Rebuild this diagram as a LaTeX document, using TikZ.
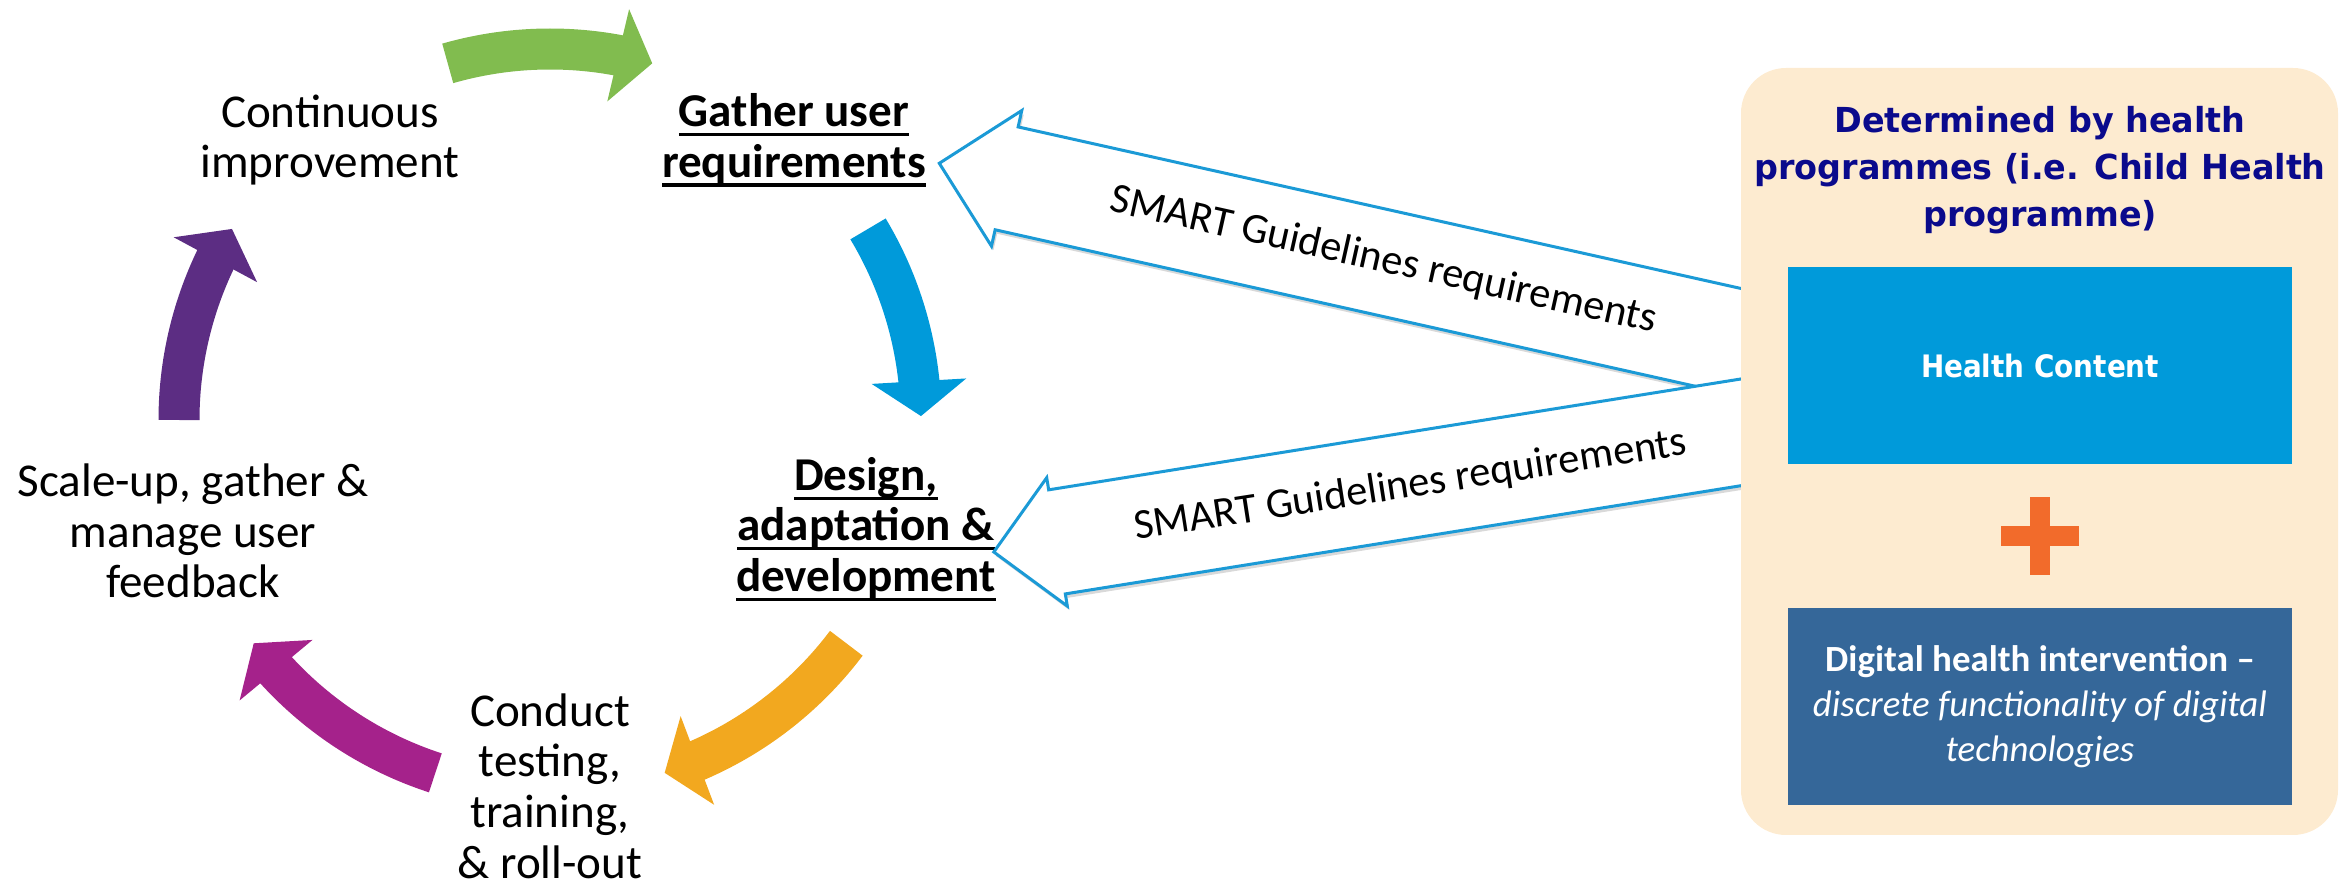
\documentclass[tikz,border=0pt]{standalone}
\usepackage{fontspec}
\setmainfont{Carlito}
\newfontfamily\panelFont[FakeStretch=0.97]{DejaVu Sans}
\newfontfamily\contentFont[FakeStretch=0.9]{DejaVu Sans}
\usepackage{xcolor}
\definecolor{arrowGreen}{HTML}{81BC4F}
\definecolor{arrowBlue}{HTML}{009ADA}
\definecolor{arrowOrange}{HTML}{F2A81F}
\definecolor{arrowMagenta}{HTML}{A5228B}
\definecolor{arrowPurple}{HTML}{5C2D83}
\definecolor{smartEdge}{HTML}{1B9AD6}
\definecolor{panelBg}{HTML}{FDEBD0}
\definecolor{titleNavy}{HTML}{0A0A8C}
\definecolor{contentBlue}{HTML}{009ADA}
\definecolor{dhiBlue}{HTML}{356799}
\definecolor{plusOrange}{HTML}{F26B2B}
\usepackage{tikz}
\usetikzlibrary{positioning,calc,arrows.meta,bending,shadows}
\newsavebox{\ulBox}
\newcommand{\stepUl}[1]{\sbox{\ulBox}{#1}\rlap{\rule[-0.2em]{\wd\ulBox}{0.065em}}\usebox{\ulBox}}
\tikzset{%
  stepText/.style={%
    align=center,
    inner sep=0pt,
    font=\fontsize{13.4}{14.4}\selectfont
  },
  keyStep/.style={%
    stepText,
    font=\fontsize{13.4}{14.4}\selectfont\bfseries
  },
  cycleArrow/.style={%
    line width=4.1mm,
    -{Triangle[length=3.5mm,width=9.3mm]},
    color=#1
  },
  smartArrow/.style={%
    draw=smartEdge,
    line width=0.3mm,
    fill=white,
    drop shadow={shadow xshift=0.2mm,shadow yshift=-0.4mm,opacity=0.3}
  },
  smartText/.style={%
    anchor=base,
    inner sep=0pt,
    font=\fontsize{12.1}{14}\selectfont
  },
  panelBox/.style={%
    rectangle,
    rounded corners=4.5mm,
    fill=panelBg,
    minimum width=59.7mm,
    minimum height=76.7mm
  },
  titleText/.style={%
    align=center,
    inner sep=0pt,
    text=titleNavy,
    font=\panelFont\bfseries\fontsize{9.8}{13.4}\selectfont
  },
  contentBox/.style={%
    rectangle,
    fill=contentBlue,
    text=white,
    minimum width=50.4mm,
    minimum height=19.7mm,
    font=\contentFont\bfseries\fontsize{8.8}{12}\selectfont
  },
  dhiBox/.style={%
    rectangle,
    fill=dhiBlue,
    text=white,
    align=center,
    minimum width=50.4mm,
    minimum height=19.7mm,
    font=\fontsize{10.5}{12.8}\selectfont
  }
}
\begin{document}
\begin{tikzpicture}[x=0.1mm,y=0.1mm]
  \useasboundingbox (0,0) rectangle (2341,885);
  \coordinate (cyc) at (550,465);

  % cycle of steps
  \node[stepText] (improve) at (330,745) {Continuous\\improvement};
  \node[keyStep] (gather) at (794,745) {\stepUl{Gather user}\\\stepUl{requirements}};
  \node[keyStep] (design) at (866,356) {\stepUl{Design,}\\\stepUl{adaptation \&}\\\stepUl{development}};
  \node[stepText] (conduct) at (550,99) {Conduct\\testing,\\training,\\\& roll-out};
  \node[stepText] (scale) at (193,354) {Scale-up, gather \&\\manage user\\feedback};

  \draw[cycleArrow=arrowGreen] ([shift={(106:371)}]cyc) arc[start angle=106,end angle=74,radius=371];
  \draw[cycleArrow=arrowBlue] ([shift={(31:371)}]cyc) arc[start angle=31,end angle=0.6,radius=371];
  \draw[cycleArrow=arrowOrange] ([shift={(-37:371)}]cyc) arc[start angle=-37,end angle=-72,radius=371];
  \draw[cycleArrow=arrowMagenta] ([shift={(-108:371)}]cyc) arc[start angle=-108,end angle=-143,radius=371];
  \draw[cycleArrow=arrowPurple] ([shift={(180:371)}]cyc) arc[start angle=180,end angle=149,radius=371];

  % requirements fed back from the programme side
  \coordinate (tipGather) at (939.3,721.7);
  \coordinate (tipDesign) at (993.8,333);
  \begin{scope}[shift={(tipGather)},rotate=-12.6]
    \draw[smartArrow] (0,0) -- (69,69.5) -- (69,52.7) -- (840,52.7) -- (840,-52.7) -- (69,-52.7) -- (69,-69.5) -- cycle;
    \node[smartText,rotate=-12.6] (smartUp) at (455,-9.4) {SMART Guidelines requirements};
  \end{scope}
  \begin{scope}[shift={(tipDesign)},rotate=9.1]
    \draw[smartArrow] (0,0) -- (64,65) -- (64,52.7) -- (780,52.7) -- (780,-52.7) -- (64,-52.7) -- (64,-65) -- cycle;
    \node[smartText,rotate=8.8] (smartDown) at (422,-12) {SMART Guidelines requirements};
  \end{scope}

  % programme panel
  \node[panelBox] (panel) at (2039.5,433.5) {};
  \node[titleText] (title) at (2040,715) {Determined by health\\programmes (i.e. Child Health\\programme)};
  \node[contentBox] (health) at (2040,519.5) {Health Content};
  \node[dhiBox, below=14.3mm of health] (dhi) {\textbf{Digital health intervention –}\\\textit{discrete functionality of digital}\\\textit{technologies}};
  \coordinate (plus) at ($(health.south)!0.5!(dhi.north)$);
  \fill[plusOrange] ($(plus)+(-39,-10)$) rectangle ($(plus)+(39,10)$);
  \fill[plusOrange] ($(plus)+(-10,-39)$) rectangle ($(plus)+(10,39)$);
\end{tikzpicture}
\end{document}
